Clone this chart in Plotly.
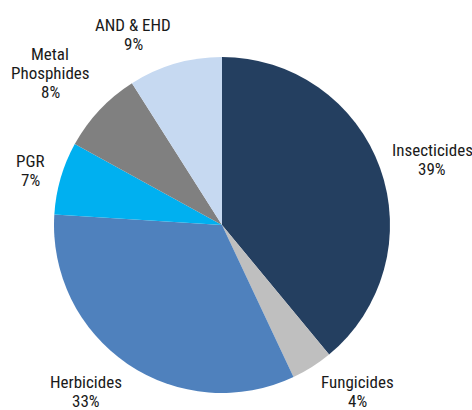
import plotly.graph_objects as go

# Market share by product segment (%)
segments = ["Insecticides", "Fungicides", "Herbicides", "PGR", "Metal Phosphides", "AND & EHD"]
shares = [39, 4, 33, 7, 8, 9]
segment_colors = ["#243F60", "#BFBFBF", "#4F81BD", "#00B0F0", "#808080", "#C6D9F1"]

# label layout: text lines per segment and the pixel position of the first line
label_lines = [["Insecticides"], ["Fungicides"], ["Herbicides"], ["PGR"], ["Metal", "Phosphides"], ["AND & EHD"]]
label_pos = [(432, 150), (357, 381.5), (86, 382), (30, 161), (50, 54), (133, 24.5)]
LINE_PITCH = 19

W, H = 472, 410
ML, MR, MT, MB = 54, 82, 57, 17
PW, PH = W - ML - MR, H - MT - MB

FONT = "Roboto Condensed, Liberation Sans Narrow, DejaVu Sans Condensed, sans-serif"

fig = go.Figure(
    go.Pie(
        labels=segments,
        values=shares,
        sort=False,
        direction="clockwise",
        rotation=0,
        marker=dict(colors=segment_colors, line=dict(width=0)),
        textinfo="none",
        hoverinfo="label+percent",
        showlegend=False,
    )
)

annotations = []
for lines, share, (px, py) in zip(label_lines, shares, label_pos):
    for i, txt in enumerate(lines + [f"{share}%"]):
        y_px = py + i * LINE_PITCH
        annotations.append(
            dict(
                text=txt,
                x=(px - ML) / PW,
                y=(H - MB - y_px) / PH,
                xref="paper",
                yref="paper",
                xanchor="center",
                yanchor="middle",
                showarrow=False,
                font=dict(family=FONT, size=17, color="#1a1a1a"),
            )
        )

fig.update_layout(
    width=W,
    height=H,
    margin=dict(l=ML, r=MR, t=MT, b=MB, pad=0),
    paper_bgcolor="white",
    plot_bgcolor="white",
    annotations=annotations,
)

fig.write_html("out.html")
